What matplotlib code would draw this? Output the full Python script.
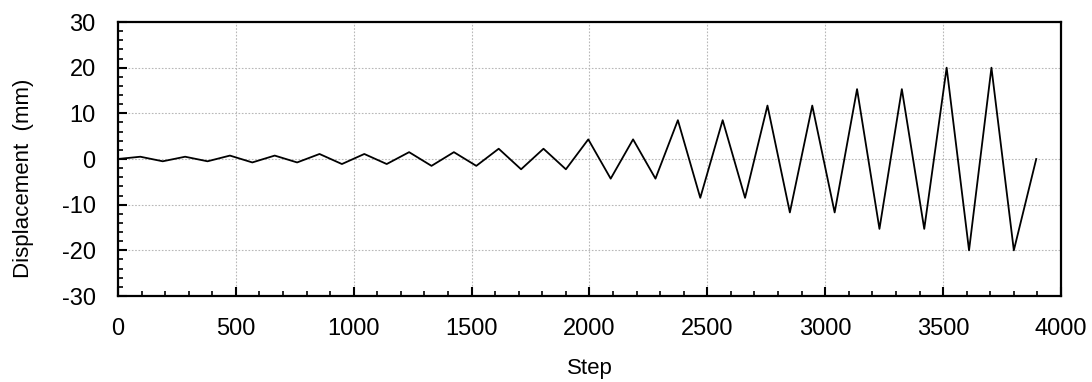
import matplotlib
matplotlib.use("Agg")
import matplotlib.pyplot as plt
from matplotlib.ticker import MultipleLocator

plt.rcParams['font.family'] = ['Liberation Sans', 'DejaVu Sans']
plt.rcParams['axes.unicode_minus'] = False

# Turning points of the cyclic displacement protocol (step, displacement in mm)
step = [0, 95, 190, 285, 380, 475, 570, 665, 760, 855, 950, 1045, 1140, 1235,
        1330, 1425, 1520, 1615, 1710, 1805, 1900, 1995, 2090, 2185, 2280, 2375,
        2470, 2565, 2660, 2755, 2850, 2945, 3040, 3135, 3230, 3325, 3420, 3515,
        3610, 3705, 3800, 3895]
displacement = [0, 0.5, -0.5, 0.5, -0.5, 0.75, -0.75, 0.75, -0.75, 1.1, -1.1,
                1.1, -1.1, 1.5, -1.5, 1.5, -1.5, 2.25, -2.25, 2.25, -2.25, 4.3,
                -4.3, 4.3, -4.3, 8.5, -8.5, 8.5, -8.5, 11.7, -11.7, 11.7, -11.7,
                15.3, -15.3, 15.3, -15.3, 20, -20, 20, -20, 0]

x_ticks = [0, 500, 1000, 1500, 2000, 2500, 3000, 3500, 4000]
y_ticks = [-30, -20, -10, 0, 10, 20, 30]

fig = plt.figure(figsize=(10.92, 3.82), dpi=100)
ax = fig.add_axes([0.108, 0.2251, 0.8636, 0.7173])

ax.plot(step, displacement, color='black', linewidth=1.3, zorder=3)

ax.set_xlim(0, 4000)
ax.set_ylim(-30, 30)
ax.set_xticks(x_ticks)
ax.set_yticks(y_ticks)
ax.xaxis.set_minor_locator(MultipleLocator(100))
ax.yaxis.set_minor_locator(MultipleLocator(2))

ax.grid(True, which='major', color='#b8b8b8', linestyle=(0, (1.5, 1.5)), linewidth=0.8)

ax.tick_params(axis='both', which='major', direction='in', length=6.5, width=1.5,
               labelsize=17, top=False, right=False, pad=16)
ax.tick_params(axis='both', which='minor', direction='in', length=3.8, width=1.2,
               top=False, right=False)

for sp in ax.spines.values():
    sp.set_linewidth(1.6)
    sp.set_color('black')

ax.set_xlabel('Step', fontsize=16)
ax.set_ylabel('Displacement  (mm)', fontsize=16)
ax.xaxis.set_label_coords(0.5, -0.266)
ax.yaxis.set_label_coords(-0.0997, 0.431)
ax.xaxis.label.set_va('center')
ax.yaxis.label.set_va('center')

fig.savefig('out.png', dpi=100, facecolor='white')
